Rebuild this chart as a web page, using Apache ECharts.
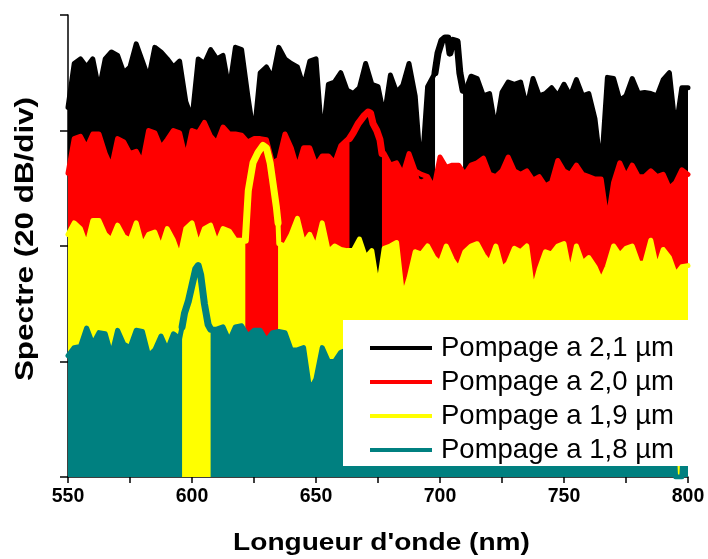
<!DOCTYPE html>
<html>
<head>
<meta charset="utf-8">
<script src="https://cdn.jsdelivr.net/npm/echarts@6/dist/echarts.min.js"></script>
<style>
html,body{margin:0;padding:0;background:#fff;}
#chart{width:708px;height:559px;}
</style>
</head>
<body>
<div id="chart"></div>
<script>
// Sampling grid (nm), 2.5 nm steps from 550 to 800
const wavelengths = Array.from({length: 101}, (_, i) => 550 + 2.5 * i);

const seriesNames = ['Pompage a 2,1 µm', 'Pompage a 2,0 µm', 'Pompage a 1,9 µm', 'Pompage a 1,8 µm'];
const seriesColors = ['#000000', '#ff0000', '#ffff00', '#008080'];
const xTickLabels = [550, 600, 650, 700, 750, 800];

// Spectrum levels (axis units, 1 unit = 20 dB); null = inside the peak outline
const black21 = [3.2,3.58,3.62,3.55,3.62,3.35,3.62,3.68,3.65,3.5,
  3.55,3.75,3.6,3.45,3.72,3.68,3.62,3.55,3.6,3.25,
  3.1,3.62,3.58,3.7,3.62,3.65,3.35,3.72,3.7,3.3,
  2.95,3.5,3.55,3.45,3.72,3.62,3.58,3.55,3.38,3.6,
  3.62,2.9,3.4,3.42,3.5,3.35,3.32,3.37,3.58,3.4,
  3.38,3.12,3.48,3.33,3.39,3.58,3.3,2.6,3.38,3.48,
  null,null,null,null,3.33,3.47,3.45,3.3,3.32,3.0,
  3.33,3.42,3.4,3.42,3.2,3.45,3.3,3.32,3.37,3.3,
  3.4,3.3,3.44,3.3,3.32,3.1,2.65,3.46,3.45,3.26,
  3.3,3.45,3.32,3.33,3.32,3.3,3.44,3.5,3.0,3.37,3.37];
const red20 = [2.63,2.93,2.95,2.85,2.97,2.97,2.8,2.68,2.93,2.9,
  2.8,2.82,2.72,3.0,2.98,2.85,2.92,3.0,2.98,2.75,
  3.0,2.98,3.07,2.95,2.89,3.03,2.97,2.97,2.96,2.9,
  2.93,2.93,2.92,2.72,2.75,2.97,2.85,2.67,2.85,2.85,
  2.7,2.78,2.78,2.72,2.87,2.92,null,null,null,null,
  null,2.8,2.7,2.72,2.62,2.8,2.65,2.62,2.6,2.5,
  2.77,2.68,2.7,2.7,2.62,2.7,2.72,2.76,2.62,2.6,
  2.65,2.77,2.65,2.62,2.65,2.57,2.6,2.52,2.55,2.74,
  2.65,2.62,2.7,2.62,2.6,2.58,2.58,2.2,2.55,2.72,
  2.6,2.7,2.6,2.6,2.65,2.6,2.62,2.5,2.55,2.66,2.62];
const yellow19 = [2.1,2.2,2.15,2.0,2.22,2.22,2.1,2.05,2.18,2.08,
  2.05,2.2,2.0,2.1,2.12,1.98,2.15,2.05,1.9,2.15,
  2.2,2.0,2.15,2.18,2.02,2.15,2.13,2.05,2.05,null,
  null,null,null,null,2.02,2.0,2.1,2.24,2.02,2.1,
  1.98,2.2,1.95,2.0,1.97,1.96,1.96,2.06,1.9,1.96,
  1.62,1.98,2.0,2.03,1.55,1.72,1.95,1.93,2.0,1.9,
  1.85,2.0,1.88,1.8,1.95,2.0,2.02,1.92,1.85,2.0,
  1.8,1.85,1.98,1.95,2.0,1.6,1.8,1.95,1.93,2.0,
  2.02,1.75,2.0,1.85,1.9,1.82,1.7,1.82,2.0,1.92,
  1.98,2.0,1.85,1.85,2.05,1.8,1.97,1.9,1.75,1.82,1.83];
const teal18 = [1.05,1.12,1.13,1.29,1.15,1.25,1.24,1.05,1.27,1.15,
  1.12,1.27,1.26,1.05,1.1,1.22,1.1,1.24,1.2,null,
  null,null,null,null,1.28,1.3,1.18,1.3,1.31,1.22,
  1.27,1.27,1.18,1.25,1.26,1.25,1.1,1.1,1.12,0.75,
  0.85,1.12,1.0,1.0,1.08,1.1,1.05,1.15,1.08,1.12,
  1.0,1.1,1.15,1.05,1.1,1.08,1.12,1.0,1.1,1.05,
  1.12,1.08,1.0,1.1,1.05,1.12,1.08,1.0,1.1,1.05,
  1.1,1.0,1.08,1.12,1.05,1.0,1.1,1.05,1.1,1.02,
  1.1,1.05,1.1,1.0,1.08,1.05,1.1,1.0,1.08,1.05,
  1.1,1.02,1.08,1.05,1.1,1.0,1.05,1.08,0,0,1.05];

// Peak outlines (drawn as lines, no fill underneath)
const blackPeakX = [698, 699.2, 700.8, 702, 703.2, 704, 705.2, 706.9, 708, 709.3];
const blackPeakY = [3.5, 3.67, 3.78, 3.8, 3.8, 3.67, 3.78, 3.77, 3.5, 3.35];
const redPeakX = [663.5, 665, 667, 669.5, 671, 672, 673, 674.5, 675.8, 676.6];
const redPeakY = [2.93, 2.98, 3.06, 3.13, 3.16, 3.15, 3.06, 3.0, 2.92, 2.8];
const yellowPeakX = [621.5, 622.7, 624.6, 626.6, 628.6, 630, 631.5, 632.7, 634, 634.7];
const yellowPeakY = [2.05, 2.48, 2.72, 2.81, 2.87, 2.85, 2.72, 2.54, 2.34, 2.2];
const tealPeakX = [596, 597, 598.5, 600, 601.5, 602.5, 603.5, 605, 606.5, 607.5];
const tealPeakY = [1.3, 1.42, 1.52, 1.66, 1.8, 1.83, 1.75, 1.5, 1.32, 1.28];

function buildArea(vals, px, py) {
  const out = [];
  const p0 = px[0], p1 = px[px.length - 1];
  let inserted = false;
  wavelengths.forEach((x, i) => {
    if (x >= p0 && x <= p1) {
      if (!inserted) {
        out.push([p0, py[0]]);
        out.push([(p0 + p1) / 2, '-']);
        out.push([p1, py[py.length - 1]]);
        inserted = true;
      }
      return;
    }
    if (x > p1 && !inserted) {
      out.push([p0, py[0]]);
      out.push([(p0 + p1) / 2, '-']);
      out.push([p1, py[py.length - 1]]);
      inserted = true;
    }
    if (vals[i] !== null) out.push([x, vals[i]]);
  });
  return out;
}
function buildPeak(px, py) { return px.map((x, i) => [x, py[i]]); }

const allVals = [black21, red20, yellow19, teal18];
const allPX = [blackPeakX, redPeakX, yellowPeakX, tealPeakX];
const allPY = [blackPeakY, redPeakY, yellowPeakY, tealPeakY];

const series = [];
for (let k = 0; k < 4; k++) {
  const c = seriesColors[k];
  series.push({
    name: seriesNames[k], type: 'line', symbol: 'none', connectNulls: false,
    data: buildArea(allVals[k], allPX[k], allPY[k]),
    itemStyle: {color: c},
    lineStyle: {color: c, width: 5, join: 'round', cap: 'round'},
    areaStyle: {color: c, opacity: 1},
    animation: false, silent: true
  });
  series.push({
    name: seriesNames[k], type: 'line', symbol: 'none',
    data: buildPeak(allPX[k], allPY[k]),
    itemStyle: {color: c},
    lineStyle: {color: c, width: 7, join: 'round', cap: 'round'},
    animation: false, silent: true
  });
}

const FONT = '"Liberation Sans", Arial, Helvetica, sans-serif';
const chart = echarts.init(document.getElementById('chart'), null, {renderer: 'canvas'});
chart.setOption({
  animation: false,
  backgroundColor: '#ffffff',
  grid: {left: 68, right: 20, top: 15, bottom: 82},
  xAxis: {
    type: 'value', min: 550, max: 800, interval: 25,
    axisLine: {show: true, lineStyle: {color: '#000', width: 1.5}},
    axisTick: {show: true, inside: false, length: 6, lineStyle: {color: '#000', width: 1.5}},
    axisLabel: {
      formatter: v => (xTickLabels.indexOf(v) >= 0 ? String(v) : ''),
      fontSize: 19.5, fontWeight: 'bold', fontFamily: FONT, color: '#000', margin: 10
    },
    splitLine: {show: false}
  },
  yAxis: {
    type: 'value', min: 0, max: 4, interval: 1,
    axisLine: {show: true, lineStyle: {color: '#000', width: 1.5}},
    axisTick: {show: true, inside: false, length: 8, lineStyle: {color: '#000', width: 1.5}},
    axisLabel: {show: false},
    splitLine: {show: false}
  },
  legend: {
    data: seriesNames, orient: 'vertical', left: 370, top: 331,
    itemWidth: 62, itemHeight: 4, itemGap: 0, padding: 0, icon: 'rect',
    selectedMode: false, z: 200,
    textStyle: {fontSize: 27.5, fontFamily: FONT, color: '#000', lineHeight: 34, padding: [0, 0, 0, 4]}
  },
  graphic: {
    elements: [
      {type: 'rect', z: 100, shape: {x: 343, y: 320, width: 348, height: 146}, style: {fill: '#fff'}},
      {type: 'text', z: 100, x: 381.5, y: 543, scaleX: 1.17,
        style: {text: "Longueur d'onde (nm)", font: 'bold 24px ' + FONT, fill: '#000', textAlign: 'center', textVerticalAlign: 'middle'}},
      {type: 'text', z: 100, x: 26, y: 239, rotation: Math.PI / 2, scaleX: 1.23,
        style: {text: 'Spectre (20 dB/div)', font: 'bold 25.5px ' + FONT, fill: '#000', textAlign: 'center', textVerticalAlign: 'middle'}}
    ]
  },
  series: series
});
</script>
</body>
</html>
